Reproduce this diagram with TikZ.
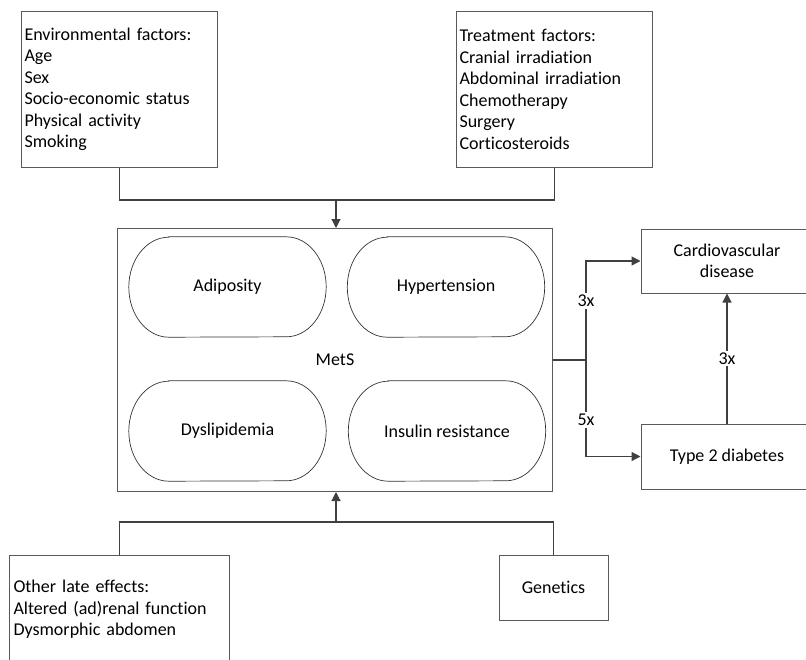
\documentclass[tikz,border=0pt]{standalone}
\usepackage{fontspec}
\setmainfont{Carlito}[Ligatures={NoCommon}]
\usetikzlibrary{arrows.meta}
\definecolor{linecol}{RGB}{64,64,64}
\definecolor{boxcol}{RGB}{89,89,89}
\tikzset{
  txt/.style={font=\fontsize{18pt}{21.5pt}\selectfont, text=black},
  box/.style={txt, draw=boxcol, line width=1pt, fill=white, inner sep=0pt},
  listbox/.style={box, align=left, anchor=north west},
  pill/.style={txt, minimum width=197pt, minimum height=100pt, inner sep=0pt},
  pillline/.style={draw=black!80, line width=0.7pt},
  conn/.style={draw=linecol, line width=1.2pt},
  arr/.style={conn, -{Triangle[length=9pt,width=9pt]}},
  lbl/.style={txt, fill=white, inner sep=2pt}
}
\newcommand\pillshape[1]{%
  \draw[pillline] ([xshift=40pt]#1.north west) -- ([xshift=-40pt]#1.north east)
    arc[start angle=90,end angle=-90,x radius=40pt,y radius=50pt]
    -- ([xshift=40pt]#1.south west)
    arc[start angle=270,end angle=90,x radius=40pt,y radius=50pt] -- cycle;}
\begin{document}
\begin{tikzpicture}[x=1pt,y=-1pt]
\useasboundingbox (0,0) rectangle (806,659);
\clip (0,0) rectangle (806,659);
\fill[white] (0,0) rectangle (806,659);

% top boxes
\node[listbox, minimum width=196pt, minimum height=156pt, text width=190pt, inner xsep=3pt] (env) at (21,11)
  {Environmental factors:\\Age\\Sex\\Socio-economic status\\Physical activity\\Smoking};
\node[listbox, minimum width=196pt, minimum height=156pt, text width=190pt, inner xsep=3pt] (treat) at (456,11)
  {Treatment factors:\\Cranial irradiation\\Abdominal irradiation\\Chemotherapy\\Surgery\\Corticosteroids};

% MetS
\node[box, minimum width=435pt, minimum height=263pt, anchor=north west] (mets) at (117,228) {MetS};
\node[pill] (adip) at (227.5,287) {Adiposity};
\node[pill] (hyper) at (446,287) {Hypertension};
\node[pill] (dysl) at (227.5,431) {Dyslipidemia};
\node[pill] (insul) at (447,431) {Insulin resistance};
\pillshape{adip}
\pillshape{hyper}
\pillshape{dysl}
\pillshape{insul}

% outcomes
\node[box, minimum width=172pt, minimum height=64pt, align=center] (cvd) at (727,261) {Cardiovascular\\disease};
\node[box, minimum width=172pt, minimum height=65pt] (t2d) at (727,456.5) {Type 2 diabetes};

% bottom boxes
\node[listbox, minimum width=220pt, minimum height=108pt, text width=212pt, inner xsep=4pt] (other) at (9,555)
  {Other late effects:\\Altered (ad)renal function\\Dysmorphic abdomen};
\node[box, minimum width=109pt, minimum height=65pt] (gen) at (553.5,587.5) {Genetics};

% top connector
\coordinate (jt) at (336,200);
\draw[conn] (env.south) |- (jt) -| (treat.south);
\draw[arr] (jt) -- (jt |- mets.north);

% bottom connector
\coordinate (jb) at (336,522);
\draw[conn] (other.north) |- (jb) -| (gen.north);
\draw[arr] (jb) -- (jb |- mets.south);

% right connectors
\coordinate (jr) at (586,360);
\draw[conn] (mets.east |- jr) -- (jr);
\draw[arr] (jr) |- (cvd.west);
\draw[arr] (jr) |- (t2d.west);
\node[lbl] (l1) at (586,301) {3x};
\node[lbl] (l2) at (586,420) {5x};
\draw[arr] (t2d.north) -- node[lbl] (l3) {3x} (cvd.south);
\end{tikzpicture}
\end{document}
